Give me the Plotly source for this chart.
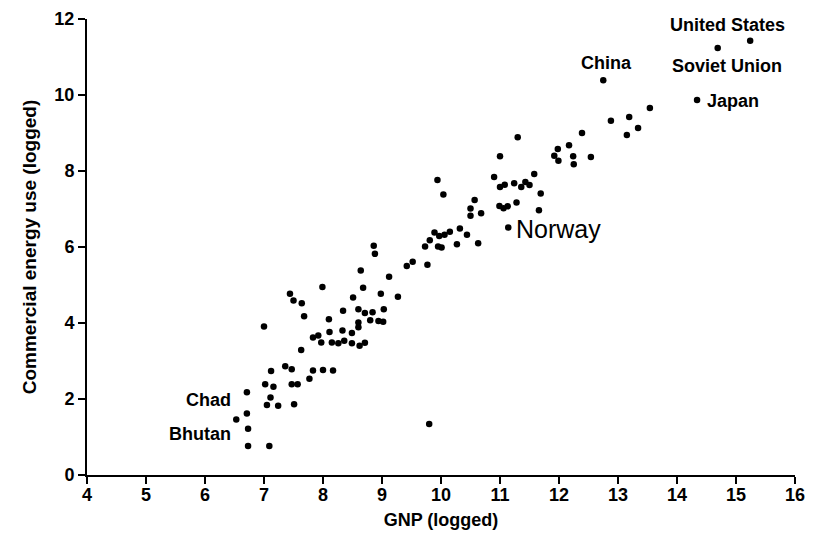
import plotly.graph_objects as go

# Labelled countries (GNP logged, commercial energy use logged)
label_names = ["United States", "Soviet Union", "China", "Japan", "Norway", "Chad", "Bhutan"]
label_gnp = [15.24, 14.69, 12.75, 14.34, 11.14, 6.71, 6.73]
label_energy = [11.43, 11.24, 10.39, 9.87, 6.51, 2.18, 1.22]

# Other countries
gnp = [13.54, 13.19, 12.88, 13.34, 13.15, 12.39, 12.17, 11.98, 11.92, 11.99,
       12.24, 12.25, 12.54, 11.30, 11.00, 9.94, 10.04, 10.90, 11.00, 11.08,
       11.24, 11.36, 11.43, 11.50, 11.58, 11.69, 10.57, 10.50, 10.50, 10.68,
       10.99, 11.06, 11.13, 11.28, 11.66, 10.32, 10.44, 9.89, 9.97, 10.06,
       10.15, 9.81, 9.73, 9.95, 10.01, 10.27, 10.63, 8.86, 8.88, 9.52,
       9.42, 9.77, 8.64, 9.12, 7.99, 8.68, 7.44, 7.50, 7.64, 8.51,
       8.98, 9.27, 7.68, 8.34, 8.60, 8.71, 8.84, 9.03, 8.10, 8.60,
       8.60, 8.80, 8.94, 9.02, 7.00, 8.11, 8.33, 8.49, 7.83, 7.92,
       7.97, 8.15, 8.26, 8.36, 8.49, 8.62, 8.71, 7.63, 7.36, 7.47,
       7.12, 7.83, 8.00, 8.17, 7.02, 7.16, 7.47, 7.57, 7.77, 7.11,
       7.05, 7.24, 7.51, 6.71, 6.53, 6.73, 7.09, 9.80]
energy = [9.66, 9.42, 9.32, 9.13, 8.95, 9.00, 8.68, 8.58, 8.40, 8.27,
          8.39, 8.18, 8.37, 8.89, 8.39, 7.76, 7.38, 7.84, 7.58, 7.64,
          7.68, 7.58, 7.71, 7.63, 7.92, 7.41, 7.24, 7.01, 6.82, 6.89,
          7.08, 7.02, 7.07, 7.17, 6.97, 6.49, 6.32, 6.38, 6.29, 6.32,
          6.40, 6.18, 6.01, 6.01, 5.99, 6.07, 6.10, 6.03, 5.82, 5.61,
          5.50, 5.53, 5.38, 5.22, 4.95, 4.93, 4.77, 4.59, 4.52, 4.67,
          4.77, 4.69, 4.18, 4.32, 4.36, 4.26, 4.28, 4.36, 4.10, 4.01,
          3.89, 4.07, 4.05, 4.03, 3.91, 3.76, 3.80, 3.74, 3.62, 3.67,
          3.49, 3.49, 3.47, 3.53, 3.47, 3.40, 3.48, 3.29, 2.86, 2.78,
          2.74, 2.75, 2.76, 2.75, 2.39, 2.32, 2.39, 2.39, 2.53, 2.04,
          1.84, 1.82, 1.86, 1.62, 1.46, 0.76, 0.76, 1.34]

x_ticks = list(range(4, 17))
y_ticks = [0, 2, 4, 6, 8, 10, 12]

FONT = "Liberation Sans, Arial, Helvetica, sans-serif"

fig = go.Figure()
fig.add_trace(go.Scatter(
    x=gnp + label_gnp, y=energy + label_energy, mode="markers",
    marker=dict(color="black", size=6.5, line=dict(width=0)),
    cliponaxis=False, hoverinfo="skip", showlegend=False,
))

# label placement (pixel offsets from each labelled point)
label_style = {
    "United States": dict(xanchor="center", xshift=-23, yshift=16, size=18, weight="bold"),
    "Soviet Union": dict(xanchor="center", xshift=9, yshift=-18, size=18, weight="bold"),
    "China": dict(xanchor="center", xshift=3, yshift=17, size=18, weight="bold"),
    "Japan": dict(xanchor="left", xshift=8, yshift=-1, size=18, weight="bold"),
    "Norway": dict(xanchor="left", xshift=6, yshift=-1, size=25, weight="normal"),
    "Chad": dict(xanchor="right", xshift=-14, yshift=-8, size=18, weight="bold"),
    "Bhutan": dict(xanchor="right", xshift=-15, yshift=-5, size=18, weight="bold"),
}
for name, gx, ey in zip(label_names, label_gnp, label_energy):
    s = label_style[name]
    fig.add_annotation(
        x=gx, y=ey, text=name, showarrow=False,
        xanchor=s["xanchor"], yanchor="middle",
        xshift=s["xshift"], yshift=s["yshift"],
        font=dict(family=FONT, size=s["size"], color="black", weight=s["weight"]),
    )

axis_common = dict(
    showline=True, linecolor="black", linewidth=2, mirror=False,
    showgrid=False, zeroline=False, automargin=False,
    ticks="outside", ticklen=7, tickwidth=2, tickcolor="black",
    tickfont=dict(family=FONT, size=18, color="black", weight="bold"),
)

# the page body adds an 8px margin, so the figure is sized to fit the window
fig.update_layout(
    width=806, height=533,
    margin=dict(l=79, r=19, t=11, b=66),
    paper_bgcolor="white", plot_bgcolor="white",
    xaxis=dict(range=[4, 16], tickvals=x_ticks, ticktext=[str(v) for v in x_ticks],
               ticklabelstandoff=-5,
               title=dict(text="GNP (logged)", standoff=10,
                          font=dict(family=FONT, size=18, color="black", weight="bold")),
               **axis_common),
    yaxis=dict(range=[0, 12], tickvals=y_ticks, ticktext=[str(v) for v in y_ticks],
               title=dict(text="Commercial energy use (logged)", standoff=13,
                          font=dict(family=FONT, size=19, color="black", weight="bold")),
               **axis_common),
)

fig.write_html("out.html")
